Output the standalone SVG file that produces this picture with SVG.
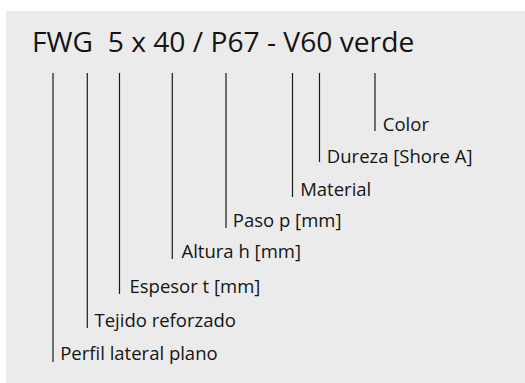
<svg xmlns="http://www.w3.org/2000/svg" width="525" height="383" viewBox="0 0 525 383">
<style>
.lbl{font-family:"Open Sans","Noto Sans",sans-serif;font-size:18.5px;fill:#141414}
.ttl{font-family:"Open Sans","Noto Sans",sans-serif;font-size:28.2px;fill:#141414}
.ln{stroke:#1a1a1a;stroke-width:1.2;fill:none}
</style>
<rect x="0" y="0" width="525" height="383" fill="#ffffff"/>
<rect x="6" y="11" width="519" height="372" fill="#ebebeb"/>
<g id="title">
<text class="ttl" x="32" y="52" xml:space="preserve">FWG  5 x 40 / P67 - V60 verde</text>
</g>
<g id="connectors">
<line class="ln" x1="53" y1="73" x2="53" y2="362"/>
<line class="ln" x1="87.3" y1="73" x2="87.3" y2="328"/>
<line class="ln" x1="119.5" y1="73" x2="119.5" y2="294"/>
<line class="ln" x1="172.3" y1="73" x2="172.3" y2="259"/>
<line class="ln" x1="226" y1="73" x2="226" y2="228"/>
<line class="ln" x1="292.5" y1="73" x2="292.5" y2="197"/>
<line class="ln" x1="319.5" y1="73" x2="319.5" y2="162"/>
<line class="ln" x1="375" y1="73" x2="375" y2="131"/>
</g>
<g id="n-perfil"><text class="lbl" x="60.2" y="360">Perfil lateral plano</text></g>
<g id="n-tejido"><text class="lbl" x="94.5" y="326.5">Tejido reforzado</text></g>
<g id="n-espesor"><text class="lbl" x="129.5" y="292.7">Espesor t [mm]</text></g>
<g id="n-altura"><text class="lbl" x="181.5" y="258">Altura h [mm]</text></g>
<g id="n-paso"><text class="lbl" x="232.8" y="226.5">Paso p [mm]</text></g>
<g id="n-material"><text class="lbl" x="300.2" y="196">Material</text></g>
<g id="n-dureza"><text class="lbl" x="326.8" y="162.5">Dureza [Shore A]</text></g>
<g id="n-color"><text class="lbl" x="382.8" y="130.7">Color</text></g>
</svg>
